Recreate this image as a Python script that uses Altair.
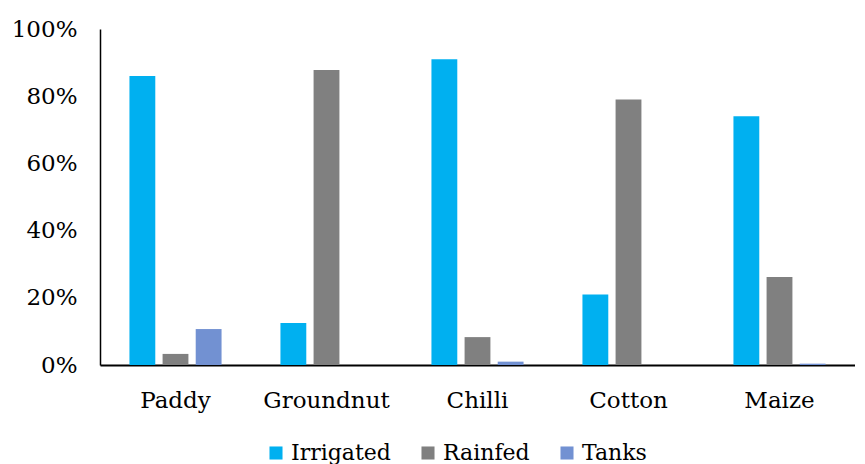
import altair as alt
import pandas as pd

crops = ["Paddy", "Groundnut", "Chilli", "Cotton", "Maize"]
series = ["Irrigated", "Rainfed", "Tanks"]
irrigated = [0.86, 0.125, 0.91, 0.21, 0.74]
rainfed = [0.033, 0.878, 0.083, 0.79, 0.262]
tanks = [0.107, 0.0, 0.01, 0.0, 0.004]
colors = ["#00b0f0", "#808080", "#7291d2"]

rows = []
for i, c in enumerate(crops):
    for s, vals in zip(series, [irrigated, rainfed, tanks]):
        rows.append({"Crop": c, "Source": s, "Share": vals[i]})
df = pd.DataFrame(rows)

font = "DejaVu Serif"

chart = alt.Chart(df).mark_bar().encode(
    x=alt.X("Crop:N", sort=crops, title=None,
            scale=alt.Scale(paddingInner=0.39, paddingOuter=0.195),
            axis=alt.Axis(labelAngle=0, ticks=False, domainColor="#000000", domainWidth=2,
                          labelFont=font, labelFontSize=23, labelColor="#000000", labelPadding=24)),
    xOffset=alt.XOffset("Source:N", sort=series, scale=alt.Scale(paddingInner=0.22)),
    y=alt.Y("Share:Q", title=None,
            scale=alt.Scale(domain=[0, 1], nice=False),
            axis=alt.Axis(format="%", values=[0, 0.2, 0.4, 0.6, 0.8, 1.0], grid=False, ticks=False,
                          domainColor="#000000", domainWidth=1.5,
                          labelFont=font, labelFontSize=23, labelColor="#000000", labelPadding=23)),
    color=alt.Color("Source:N", sort=series,
                    scale=alt.Scale(domain=series, range=colors),
                    legend=alt.Legend(orient="none", legendX=165, legendY=413,
                                      direction="horizontal", title=None,
                                      symbolType="square", symbolSize=170, symbolStrokeWidth=0,
                                      labelFont=font, labelFontSize=22, labelColor="#000000",
                                      columnPadding=26)),
).properties(
    width=755, height=336,
    padding={"left": 3, "top": 10, "right": 0, "bottom": 0},
).configure_view(stroke=None)

chart.save("out.html", embed_options={"renderer": "svg", "actions": False})
